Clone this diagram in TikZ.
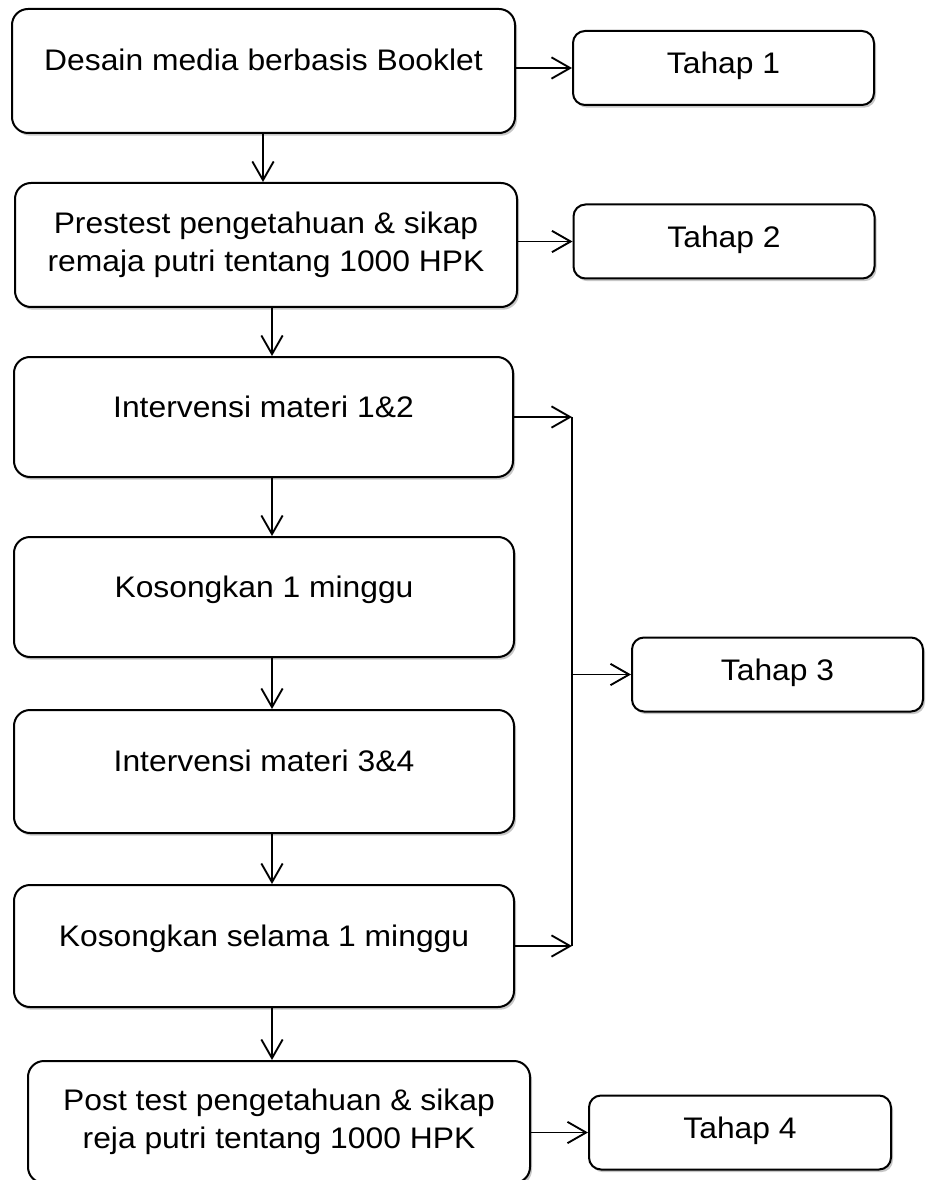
\documentclass[tikz,border=0pt]{standalone}
\usepackage{fontspec}
\setmainfont{Liberation Sans}[FakeStretch=1.07]
\usetikzlibrary{arrows.meta,shadows}
\begin{document}
\begin{tikzpicture}[x=0.75pt,y=-0.75pt,
  every node/.style={font=\fontsize{22.3}{28.5}\selectfont},
  shadowed/.style={drop shadow={shadow xshift=1.5pt,shadow yshift=-2pt,fill=black,opacity=0.22}},
  mainbox/.style={draw,line width=1.5pt,rounded corners=12pt,fill=white,shadowed,inner sep=0pt,align=center},
  onebox/.style={mainbox,text height=12pt,text depth=12pt},
  tahapbox/.style={draw,line width=1.5pt,rounded corners=9pt,fill=white,shadowed,inner sep=0pt,
    minimum height=55.5pt,text height=12pt,text depth=3pt},
  arr/.style={line width=1.4pt,-{Straight Barb[length=14pt,width=16pt,line width=1.4pt]}},
  plain/.style={line width=1.4pt}]
\useasboundingbox (0,0) rectangle (925,1180);
\clip (0,0) rectangle (925,1180);

% main column
\node[onebox,minimum width=377.25pt,minimum height=93pt] (b1) at (263.5,71) {Desain media berbasis Booklet};
\node[mainbox,minimum width=376.5pt,minimum height=93pt] (b2) at (266,245) {Prestest pengetahuan \& sikap\\remaja putri tentang 1000 HPK};
\node[onebox,minimum width=374.25pt,minimum height=90pt] (b3) at (263.5,417) {Intervensi materi 1\&2};
\node[onebox,minimum width=375pt,minimum height=90pt] (b4) at (264,597) {Kosongkan 1 minggu};
\node[onebox,minimum width=375pt,minimum height=92.25pt] (b5) at (264,771.5) {Intervensi materi 3\&4};
\node[onebox,minimum width=375pt,minimum height=91.5pt] (b6) at (264,946) {Kosongkan selama 1 minggu};
\node[mainbox,minimum width=376.5pt,minimum height=91.5pt] (b7) at (279,1122) {Post test pengetahuan \& sikap\\reja putri tentang 1000 HPK};

% stage boxes
\node[tahapbox,minimum width=225.75pt] (t1) at (723.5,68) {Tahap 1};
\node[tahapbox,minimum width=225.75pt] (t2) at (724,241.5) {Tahap 2};
\node[tahapbox,minimum width=218.25pt] (t3) at (777.5,674.5) {Tahap 3};
\node[tahapbox,minimum width=226.5pt] (t4) at (740,1132.5) {Tahap 4};

% helper coordinates
\coordinate (ax1) at (263,0);
\coordinate (ax) at (272,0);
\coordinate (vx) at (572,0);

% vertical flow
\draw[arr] (b1.south -| ax1) -- (b2.north -| ax1);
\draw[arr] (b2.south -| ax) -- (b3.north -| ax);
\draw[arr] (b3.south -| ax) -- (b4.north -| ax);
\draw[arr] (b4.south -| ax) -- (b5.north -| ax);
\draw[arr] (b5.south -| ax) -- (b6.north -| ax);
\draw[arr] (b6.south -| ax) -- (b7.north -| ax);

% horizontal arrows to stages
\draw[arr] (b1.east |- t1.west) -- (t1.west);
\draw[arr] (b2.east |- t2.west) -- (t2.west);
\draw[arr] (b7.east |- t4.west) -- (t4.west);

% stage 3 bracket
\draw[arr] (b3.east) -- (b3.east -| vx);
\draw[arr] (b6.east) -- (b6.east -| vx);
\draw[plain] (b3.east -| vx) -- (b6.east -| vx);
\draw[arr] (vx |- t3.west) -- (t3.west);
\end{tikzpicture}
\end{document}
